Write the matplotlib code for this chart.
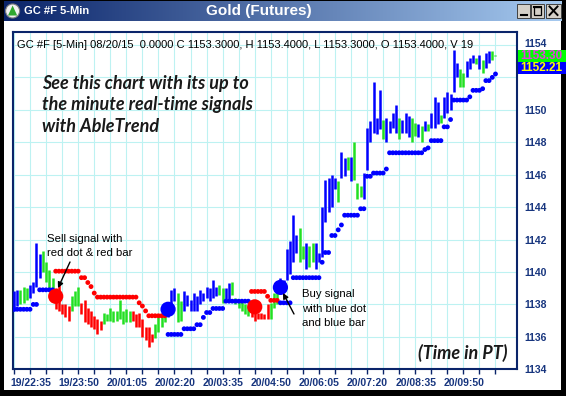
import matplotlib
matplotlib.use("Agg")
import matplotlib.pyplot as plt
import matplotlib.transforms as mtrans
from matplotlib.patches import Rectangle, Circle, Polygon
from matplotlib.colors import LinearSegmentedColormap
import numpy as np

# ---- data (5-min bars, index 0 = 19/22:35) ----
highs = [
    1138.8, 1138.9, 1138.9, 1139.1, 1139.0, 1139.2, 1139.4, 1141.8, 1141.1, 1141.3,
    1140.6, 1140.1, 1139.6, 1139.0, 1139.4, 1138.0, 1138.0, 1137.9, 1138.5, 1138.8,
    1139.1, 1138.1, 1138.3, 1137.8, 1137.6, 1137.3, 1137.1, 1137.0, 1137.5, 1137.4,
    1137.8, 1137.6, 1137.6, 1138.3, 1137.6, 1137.7, 1137.6, 1137.6, 1137.4, 1137.5,
    1137.1, 1136.6, 1136.6, 1136.2, 1136.8, 1137.2, 1137.4, 1137.7, 1137.9, 1138.9,
    1139.0, 1138.7, 1138.2, 1138.8, 1138.6, 1138.3, 1138.7, 1138.5, 1138.9, 1138.7,
    1139.1, 1139.0, 1139.5, 1139.1, 1139.2, 1139.0, 1139.0, 1139.3, 1139.4, 1138.4,
    1138.3, 1138.2, 1138.0, 1137.9, 1137.7, 1137.6, 1137.5, 1137.5, 1137.4, 1138.0,
    1138.1, 1138.7, 1139.0, 1139.6, 1139.5, 1141.4, 1141.9, 1143.5, 1142.3, 1142.7,
    1141.6, 1141.8, 1141.6, 1141.8, 1141.8, 1141.2, 1144.0, 1145.7, 1145.8, 1146.0,
    1145.8, 1145.6, 1147.4, 1147.0, 1147.1, 1147.1, 1148.0, 1145.5, 1145.3, 1146.1,
    1148.9, 1149.3, 1151.7, 1149.5, 1151.2, 1149.4, 1149.5, 1149.3, 1149.8, 1150.3,
    1149.5, 1149.4, 1149.8, 1149.6, 1149.5, 1149.2, 1149.1, 1149.0, 1149.3, 1149.1,
    1149.8, 1150.8, 1150.5, 1149.7, 1150.8, 1151.1, 1151.0, 1153.7, 1152.9, 1152.5,
    1152.3, 1153.0, 1153.2, 1153.4, 1153.2, 1153.4, 1153.1, 1153.5, 1153.6, 1153.6,
    1153.4,
]
lows = [
    1137.6, 1137.9, 1138.0, 1138.1, 1138.3, 1138.4, 1138.7, 1139.1, 1139.6, 1140.0,
    1139.4, 1139.0, 1138.6, 1137.7, 1137.6, 1137.4, 1137.2, 1137.0, 1137.6, 1137.9,
    1137.9, 1137.4, 1136.9, 1136.8, 1136.6, 1136.5, 1136.2, 1136.4, 1136.8, 1137.0,
    1137.0, 1136.9, 1137.0, 1137.1, 1136.8, 1136.9, 1136.9, 1137.0, 1136.6, 1136.6,
    1136.0, 1135.8, 1135.4, 1135.7, 1135.9, 1136.3, 1136.6, 1136.9, 1137.2, 1137.7,
    1138.2, 1136.9, 1137.0, 1137.6, 1137.9, 1137.6, 1137.6, 1137.6, 1138.0, 1138.2,
    1138.4, 1138.2, 1138.4, 1138.5, 1138.6, 1138.1, 1138.2, 1138.3, 1138.6, 1138.0,
    1137.8, 1137.6, 1137.4, 1137.3, 1137.2, 1137.0, 1137.1, 1137.1, 1137.1, 1137.1,
    1137.1, 1137.8, 1138.0, 1138.9, 1138.9, 1139.5, 1139.9, 1140.6, 1141.2, 1140.6,
    1140.8, 1140.2, 1140.3, 1140.6, 1140.2, 1140.6, 1140.9, 1143.1, 1143.7, 1144.0,
    1145.1, 1144.3, 1145.8, 1145.9, 1146.3, 1145.6, 1145.7, 1144.5, 1144.6, 1144.5,
    1146.3, 1148.0, 1148.6, 1148.5, 1148.8, 1148.2, 1148.0, 1148.6, 1148.9, 1148.6,
    1148.2, 1148.6, 1148.6, 1148.3, 1148.0, 1148.4, 1148.3, 1148.0, 1148.7, 1148.7,
    1148.9, 1148.9, 1149.1, 1149.2, 1149.5, 1149.8, 1150.0, 1151.1, 1152.0, 1151.4,
    1151.4, 1152.0, 1152.5, 1152.9, 1152.8, 1152.5, 1152.3, 1152.6, 1152.9, 1153.1,
    1153.3,
]
bar_colors = ("bbgggbbbbg" "gggrrrrrgg" "grrrrrrrgg" "gggggggrrr" "rrrrggggbb"
              "bggbbbbbbb" "bbbbggbbgg" "ggggrrrrrr" "gggbbbbbbg" "gbggbbbbbb"
              "bgbbgbgggb" "bbbbbgbbbb" "gbbbggbgbg" "bbbgbbbbbg" "gbbbgbgbbg"
              "g")

# trailing stop dots (one per bar)
stops = [
    1137.7, 1137.7, 1137.7, 1137.7, 1137.7, 1137.7, 1138.0, 1138.0, 1138.9, 1138.9,
    1138.9, 1138.9, 1138.9, 1140.05, 1140.05, 1140.05, 1140.05, 1140.05, 1140.05, 1140.05,
    1140.05, 1139.65, 1139.65, 1139.35, 1139.1, 1138.7, 1138.45, 1138.45, 1138.45, 1138.45,
    1138.45, 1138.45, 1138.45, 1138.45, 1138.45, 1138.45, 1138.45, 1138.45, 1138.45, 1138.1,
    1137.9, 1137.6, 1137.3, 1137.3, 1137.3, 1137.3, 1137.3, 1137.3, 1136.15, 1136.15,
    1136.15, 1136.15, 1136.15, 1136.5, 1136.5, 1136.5, 1136.5, 1136.75, 1136.75, 1137.2,
    1137.5, 1137.5, 1137.75, 1137.75, 1137.75, 1137.75, 1138.2, 1138.2, 1138.2, 1138.2,
    1138.2, 1138.2, 1138.2, 1138.2, 1138.8, 1138.8, 1138.8, 1138.8, 1138.8, 1138.5,
    1138.25, 1138.25, 1138.25, 1138.1, 1138.1, 1138.1, 1138.1, 1139.65, 1139.65, 1139.65,
    1139.65, 1139.65, 1139.65, 1139.65, 1139.65, 1139.65, 1140.6, 1141.2, 1141.2, 1142.25,
    1142.25, 1142.6, 1142.9, 1143.5, 1143.5, 1143.5, 1143.5, 1143.5, 1143.9, 1143.9,
    1145.9, 1145.9, 1146.1, 1146.1, 1146.1, 1146.1, 1146.35, 1147.35, 1147.35, 1147.35,
    1147.35, 1147.35, 1147.35, 1147.35, 1147.35, 1147.35, 1147.35, 1147.35, 1147.55, 1147.65,
    1148.1, 1148.1, 1148.1, 1148.1, 1148.95, 1148.95, 1149.4, 1150.6, 1150.6, 1150.6,
    1150.6, 1150.6, 1150.8, 1151.2, 1151.2, 1151.2, 1151.3, 1151.8, 1151.8, 1152.0,
    1152.21,
]
stop_colors = ("bbbbbbbbbb" "bbbrrrrrrr" "rrrrrrrrrr" "rrrrrrrrrr" "rrrrrrrrbb"
               "bbbbbbbbbb" "bbbbbbbbbb" "bbbbrrrrrr" "rrrbbbbbbb" "bbbbbbbbbb"
               "bbbbbbbbbb" "bbbbbbbbbb" "bbbbbbbbbb" "bbbbbbbbbb" "bbbbbbbbbb"
               "b")

# signal bars (big dots)
sig_bars = [13, 48, 75, 83]
sig_prices = [1138.5, 1137.7, 1137.85, 1139.05]
sig_colors = ["r", "b", "r", "b"]

time_labels = ["19/22:35", "19/23:50", "20/01:05", "20/02:20", "20/03:35",
               "20/04:50", "20/06:05", "20/07:20", "20/08:35", "20/09:50"]
price_ticks = [1134, 1136, 1138, 1140, 1142, 1144, 1146, 1148, 1150, 1152, 1154]
hidden_price = 1152
last_close = 1153.30
last_stop = 1152.21

header = ("GC #F [5-Min] 08/20/15  0.0000 C 1153.3000, H 1153.4000, "
          "L 1153.3000, O 1153.4000, V 19")

# ---- styling ----
W, H = 566, 396
NAVY = "#0A246A"
LABEL = "#17357E"
col = {"b": "#0000FF", "g": "#22E022", "r": "#FF0000"}
SANS = ["Liberation Sans", "DejaVu Sans"]
PROMO = ["Lato", "DejaVu Sans"]

fig = plt.figure(figsize=(W / 100, H / 100), dpi=100, facecolor="black")

# window content + title bar
fig.add_artist(Rectangle((3.5 / W, 1 - 390 / H), 557.5 / W, 369 / H,
                         transform=fig.transFigure, facecolor="white",
                         edgecolor="none", zorder=-1))
tb = fig.add_axes([3.5 / W, 1 - 21 / H, 557.5 / W, 20 / H])
tb.imshow(np.linspace(0, 1, 256)[None, :], aspect="auto", extent=[0, 1, 0, 1],
          cmap=LinearSegmentedColormap.from_list("tb", ["#0A246A", "#A6CAF0"]))
tb.axis("off")

# main chart axes
ax = fig.add_axes([12.7 / W, 1 - 369.3 / H, 504.3 / W, 337.5 / H])
ax.set_facecolor("white")
idx = np.arange(len(highs))
ax.set_xlim(-0.4, 156.7)
ax.set_ylim(1134.04, 1154.81)

ax.vlines(idx, lows, highs, colors=[col[c] for c in bar_colors], lw=1.8, zorder=3)
ax.scatter(idx, stops, s=12, c=[col[c] for c in stop_colors], linewidths=0, zorder=4)
ax.scatter(sig_bars, sig_prices, s=120, c=[col[c] for c in sig_colors],
           linewidths=0, zorder=5)

xt = list(range(0, 151, 5))
xl = [time_labels[k // 3] if k % 3 == 0 and k // 3 < len(time_labels) else ""
      for k in range(len(xt))]
ax.set_xticks(xt)
ax.set_xticklabels(xl, fontsize=7.5, fontweight="bold", family=SANS, color=LABEL)
ax.tick_params(axis="x", length=3.5, width=1, color=NAVY, pad=2.5)
shift = mtrans.ScaledTranslation(-4 / 100, 0, fig.dpi_scale_trans)
for lab in ax.get_xticklabels():
    lab.set_ha("left")
    lab.set_transform(lab.get_transform() + shift)

ax.yaxis.tick_right()
ax.set_yticks(price_ticks)
ax.set_yticklabels(["" if p == hidden_price else str(p) for p in price_ticks],
                   fontsize=7.5, fontweight="bold", family=SANS, color=LABEL)
ax.tick_params(axis="y", length=0, pad=5.5)
# top price label sits just above the last-price box
top_lab = ax.get_yticklabels()[-1]
top_lab.set_transform(top_lab.get_transform() +
                      mtrans.ScaledTranslation(0, 1.5 / 100, fig.dpi_scale_trans))

ax.grid(True, color="#BDF2F2", lw=0.8)
ax.set_axisbelow(True)
for s in ax.spines.values():
    s.set_color(NAVY)
    s.set_linewidth(1.5)

# overlay in pixel coordinates for window chrome and notes
ov = fig.add_axes([0, 0, 1, 1], zorder=10)
ov.set_xlim(0, W)
ov.set_ylim(H, 0)
ov.axis("off")
ov.patch.set_alpha(0)

# title bar bits
ov.add_patch(Circle((12.6, 11), 7, facecolor="#F2F2F2", edgecolor="#808080", lw=0.8))
ov.add_patch(Polygon([(8, 15.5), (12.6, 5.5), (17.2, 15.5)], closed=True,
                     facecolor="#2FA82F", edgecolor="none"))
ov.text(23.5, 11, "GC #F 5-Min", color="white", fontsize=8, fontweight="bold",
        family=SANS, va="center", ha="left")
ov.text(258.5, 11, "Gold (Futures)", color="white", fontsize=11, fontweight="bold",
        family=SANS, va="center", ha="center")
for x0 in (517, 530.7, 545.8):
    ov.add_patch(Rectangle((x0, 3.6), 12.8 if x0 < 545 else 15.2, 14.4,
                           facecolor="#D4D0C8", edgecolor="#404040", lw=0.7))
ov.plot([520.5, 526.5], [14.5, 14.5], color="black", lw=1.5)
ov.add_patch(Rectangle((533.5, 6.5), 7.5, 8, facecolor="none", edgecolor="black", lw=0.9))
ov.plot([533.5, 541], [7, 7], color="black", lw=1.5)
ov.plot([549.5, 557.5], [6.5, 15], color="black", lw=1.4)
ov.plot([549.5, 557.5], [15, 6.5], color="black", lw=1.4)

# header line
ov.text(17, 45, header, fontsize=8, family=SANS, color="black", va="center", ha="left")

# promo text
promo = ["See this chart with its up to", "the minute real-time signals", "with AbleTrend"]
for k, line in enumerate(promo):
    ov.text(42, 83 + 21.5 * k, line, fontsize=13, fontweight="bold", style="italic",
            family=PROMO, color="#1A1A1A", va="center", ha="left")
ov.text(508, 353, "(Time in PT)", fontsize=13, fontweight="bold", style="italic",
        family=PROMO, color="#1A1A1A", va="center", ha="right")

# signal notes
for k, line in enumerate(["Sell signal with", "red dot & red bar"]):
    ov.text(47, 239 + 14 * k, line, fontsize=8.2, family=SANS, color="black",
            va="center", ha="left")
for k, line in enumerate(["Buy signal", "with blue dot", "and blue bar"]):
    ov.text(302.5, 294 + 14.5 * k, line, fontsize=8.2, family=SANS, color="black",
            va="center", ha="left")
arrow = dict(arrowstyle="-|>", color="black", lw=1, mutation_scale=8,
             shrinkA=0, shrinkB=0)
ov.annotate("", xy=(58, 288), xytext=(70, 262), arrowprops=arrow)
ov.annotate("", xy=(283, 293), xytext=(294, 314), arrowprops=arrow)

# last price / stop boxes on the price scale
ov.add_patch(Rectangle((518.3, 50.0), 48, 11.6, facecolor="#00FF00", edgecolor="none"))
ov.text(520.7, 56.0, f"{last_close:.2f}", fontsize=8.5, fontweight="bold", family=SANS,
        color="#E43CE0", va="center", ha="left")
ov.add_patch(Rectangle((518.3, 62.0), 48, 11.8, facecolor="#0000FF", edgecolor="none"))
ov.text(520.7, 68.1, f"{last_stop:.2f}", fontsize=8.5, fontweight="bold", family=SANS,
        color="#FFFF00", va="center", ha="left")

fig.savefig("out.png", dpi=100, facecolor=fig.get_facecolor())
